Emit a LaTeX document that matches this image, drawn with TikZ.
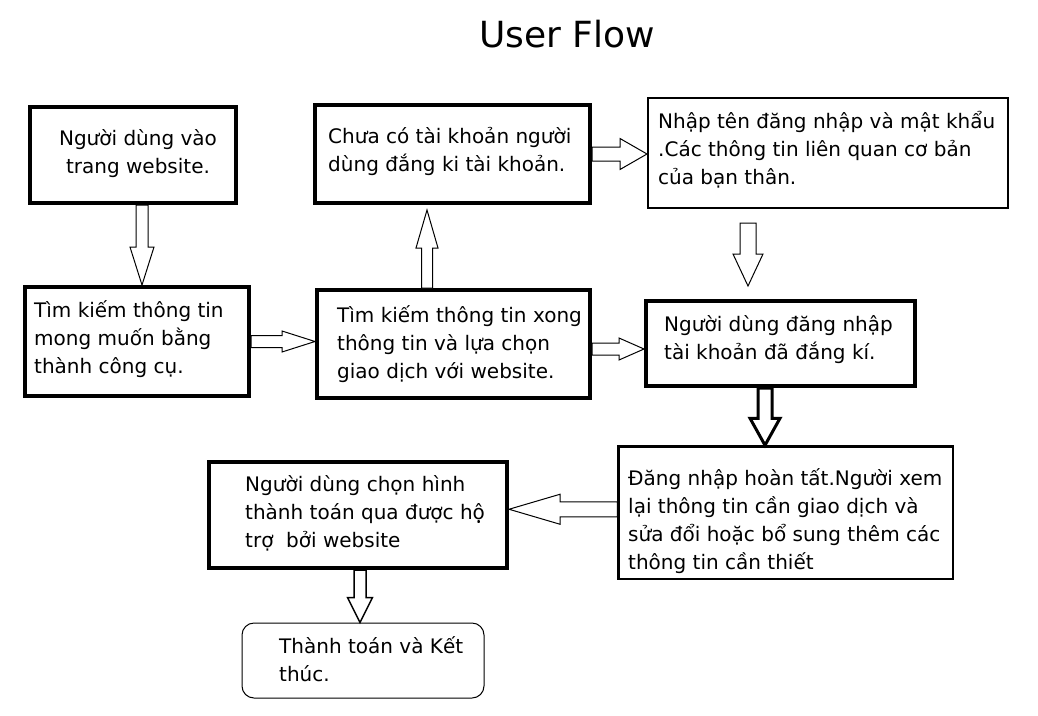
\documentclass[tikz,border=0pt]{standalone}
\usepackage{fontspec}
\setmainfont{DejaVu Sans}
\usetikzlibrary{calc}
\newcommand\tstrut{\rule{0pt}{22pt}}
\newcommand\blockarrow[6][]{%
  \path ($(#3)!#6!(#2)$) coordinate (BAneck);
  \draw[barrow,#1] ($(#2)!#4!90:(#3)$) -- ($(BAneck)!#4!-90:(#2)$) -- ($(BAneck)!#5!-90:(#2)$)
    -- (#3) -- ($(BAneck)!#5!90:(#2)$) -- ($(BAneck)!#4!90:(#2)$) -- ($(#2)!#4!-90:(#3)$) -- cycle;}
\begin{document}
\begin{tikzpicture}[x=1pt,y=-1pt,
  box/.style={draw=black, line width=4pt, inner sep=0pt, anchor=north west, fill=white},
  txt/.style={inner sep=0pt, anchor=north west, align=left, font=\fontsize{20}{28}\selectfont},
  barrow/.style={draw=black, line width=1pt, fill=white, line join=miter}]
\useasboundingbox[fill=white] (0,0) rectangle (1038,715);

\node[anchor=base, inner sep=0pt, font=\fontsize{36}{40}\selectfont] (title) at (567,47) {User Flow};

% boxes
\node[box, minimum width=206pt, minimum height=96pt] (b1) at (28,105) {};
\node[box, minimum width=224pt, minimum height=109pt] (b2) at (23,285) {};
\node[box, minimum width=275pt, minimum height=98pt] (b3) at (313,103) {};
\node[box, minimum width=273pt, minimum height=108pt] (b4) at (315,288) {};
\node[box, line width=2pt, minimum width=360pt, minimum height=110pt] (b5) at (647,97) {};
\node[box, minimum width=269pt, minimum height=85pt] (b6) at (644,299) {};
\node[box, line width=2.5pt, minimum width=334.5pt, minimum height=132.5pt] (b7) at (617.25,445.25) {};
\node[box, minimum width=298pt, minimum height=106pt] (b8) at (207,460) {};
\node[box, line width=1pt, rounded corners=12pt, minimum width=242pt, minimum height=75pt] (b9) at (241.5,622.5) {};

% texts
\node[txt, anchor=north, align=center] (t1) at (138,123) {\tstrut Người dùng vào\\trang website.};
\node[txt] (t2) at (34,295) {\tstrut Tìm kiếm thông tin\\mong muốn bằng\\thành công cụ.};
\node[txt] (t3) at (328,121) {\tstrut Chưa có tài khoản người\\dùng đắng ki tài khoản.};
\node[txt] (t4) at (337,300) {\tstrut Tìm kiếm thông tin xong\\thông tin và lựa chọn\\giao dịch với website.};
\node[txt] (t5) at (658,106) {\tstrut Nhập tên đăng nhập và mật khẩu\\.Các thông tin liên quan cơ bản\\của bạn thân.};
\node[txt] (t6) at (664,309) {\tstrut Người dùng đăng nhập\\tài khoản đã đắng kí.};
\node[txt] (t7) at (628,463) {\tstrut Đăng nhập hoàn tất.Người xem\\lại thông tin cần giao dịch và\\sửa đổi hoặc bổ sung thêm các\\thông tin cần thiết};
\node[txt] (t8) at (245,469) {\tstrut Người dùng chọn hình\\thành toán qua được hộ\\trợ\ \ bởi website};
\node[txt] (t9) at (279,631) {\tstrut Thành toán và Kết\\thúc.};

% connector end points
\coordinate (aS) at ($(b1.south)+(9,0)$);   \coordinate (aE) at (aS |- b2.north);
\coordinate (bS) at (b2.east);              \coordinate (bE) at (bS -| b4.west);
\coordinate (cS) at ($(b4.north)+(-26.5,0)$); \coordinate (cE) at ($(cS |- b3.south)+(0,5)$);
\coordinate (dS) at (b3.east);              \coordinate (dE) at (dS -| b5.west);
\coordinate (eS) at (748,223);              \coordinate (eE) at (748,286);
\coordinate (fS) at ($(b4.east)+(0,5)$);    \coordinate (fE) at (fS -| b6.west);
\coordinate (gS) at ($(b6.south)+(-15.5,0)$); \coordinate (gE) at (gS |- b7.north);
\coordinate (hS) at ($(b7.west)+(0,-3.5)$); \coordinate (hE) at (hS -| b8.east);
\coordinate (iS) at ($(b8.south)+(2,0)$);   \coordinate (iE) at (iS |- b9.north);

% block arrows
\blockarrow{aS}{aE}{6pt}{12pt}{38pt}
\blockarrow{bS}{bE}{6pt}{10.5pt}{33pt}
\blockarrow{cS}{cE}{5.5pt}{11pt}{38pt}
\blockarrow{dS}{dE}{7pt}{15.5pt}{27pt}
\blockarrow{eS}{eE}{8pt}{15pt}{32pt}
\blockarrow{fS}{fE}{6pt}{11pt}{25pt}
\blockarrow[line width=3pt]{gS}{gE}{7pt}{15pt}{27pt}
\blockarrow{hS}{hE}{7.5pt}{15pt}{51pt}
\blockarrow[line width=1.5pt]{iS}{iE}{6pt}{12.5pt}{25pt}
\end{tikzpicture}
\end{document}
